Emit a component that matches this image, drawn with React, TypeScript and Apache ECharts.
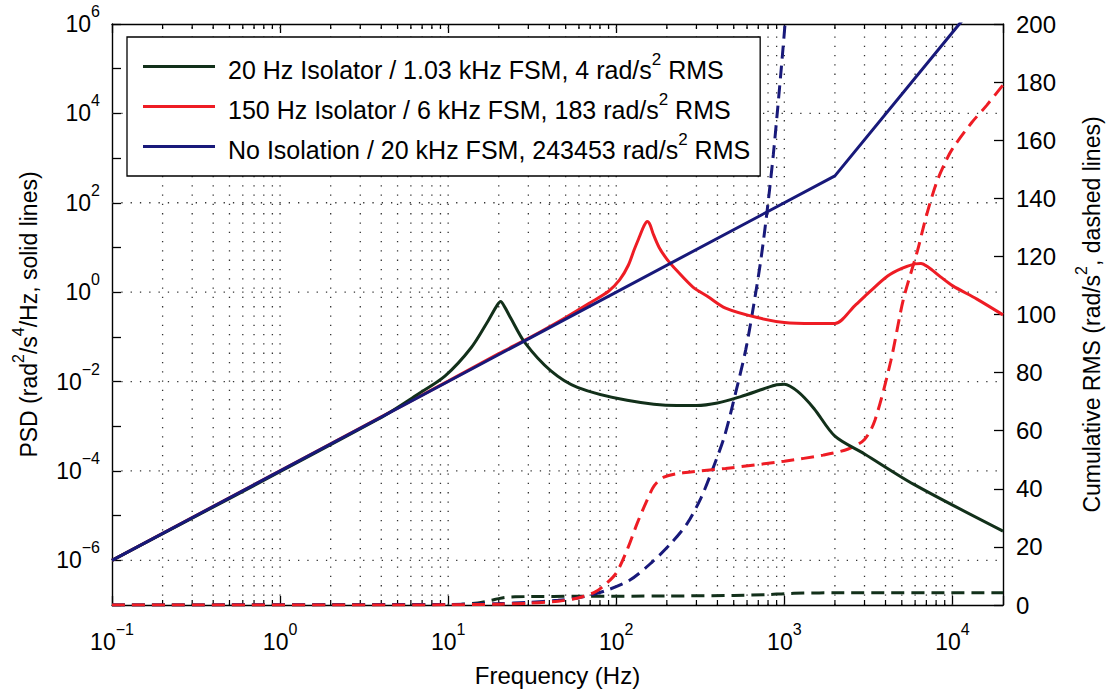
import React, { useEffect, useRef } from 'react';
import * as echarts from 'echarts';

const FONT = '"Liberation Sans", Arial, Helvetica, sans-serif';

// Axis extents
const FREQ_MIN = 0.1;
const FREQ_MAX = 20000;
const PSD_MIN = 1e-7;
const PSD_MAX = 1e6;
const RMS_MIN = 0;
const RMS_MAX = 200;

// Grid positions (x: decades and minor 2..9, y: even decades)
const xMajorGrid = [1, 10, 100, 1000, 10000];
const xMinorGrid = [
  0.2, 0.3, 0.4, 0.5, 0.6, 0.7, 0.8, 0.9,
  2, 3, 4, 5, 6, 7, 8, 9,
  20, 30, 40, 50, 60, 70, 80, 90,
  200, 300, 400, 500, 600, 700, 800, 900,
  2000, 3000, 4000, 5000, 6000, 7000, 8000, 9000,
];
const yGrid = [1e-6, 1e-4, 1e-2, 1, 1e2, 1e4];

// Legend names
const NAME_GREEN = '20 Hz Isolator / 1.03 kHz FSM, 4 rad/s² RMS';
const NAME_RED = '150 Hz Isolator / 6 kHz FSM, 183 rad/s² RMS';
const NAME_BLUE = 'No Isolation / 20 kHz FSM, 243453 rad/s² RMS';

// PSD (solid lines) [frequency Hz, rad^2/s^4/Hz]
const greenPsd: [number, number][] = [
  [0.1, 1e-6], [3.85, 0.00145], [6.6, 0.0052], [9.6, 0.0134], [13.7, 0.057],
  [17.3, 0.23], [19.5, 0.5], [20.5, 0.62], [21.8, 0.45], [23.6, 0.26],
  [28.6, 0.074], [40.7, 0.0175], [58.8, 0.0074], [116, 0.0038], [229, 0.0029],
  [300, 0.0029], [400, 0.0033], [550, 0.0046], [750, 0.0068], [900, 0.0085],
  [1000, 0.0087], [1200, 0.006], [1500, 0.0025], [2000, 0.0006], [3000, 0.00024],
  [5900, 0.00005], [20000, 4.5e-6],
];
const redPsd: [number, number][] = [
  [0.1, 1e-6], [10, 0.0102], [20, 0.042], [32, 0.105], [50, 0.27], [70, 0.58],
  [90, 1.05], [105, 1.9], [118, 4], [128, 9], [138, 18], [146, 30], [153, 38],
  [159, 32], [166, 20], [180, 10], [200, 5.5], [230, 3], [286, 1.3], [350, 0.8],
  [447, 0.44], [690, 0.27], [1000, 0.21], [1500, 0.2], [2000, 0.2], [2630, 0.5],
  [3200, 1.0], [4120, 2.3], [5000, 3.4], [6000, 4.3], [6500, 4.4], [7200, 3.6],
  [8500, 2.2], [10000, 1.4], [14000, 0.7], [20000, 0.31],
];
const bluePsd: [number, number][] = [
  [0.1, 1e-6], [2000, 400], [11000, 1e6], [20000, 1.5e7],
];

// Cumulative RMS (dashed lines) [frequency Hz, rad/s^2]
const greenRms: [number, number][] = [
  [0.1, 0], [8, 0.1], [12, 0.3], [15, 0.7], [18, 1.6], [20, 2.2], [22, 2.6],
  [25, 2.8], [30, 2.9], [60, 3.0], [200, 3.1], [500, 3.3], [800, 3.6], [1000, 3.9],
  [1300, 4.1], [2000, 4.2], [20000, 4.2],
];
const redRms: [number, number][] = [
  [0.1, 0], [10, 0.05], [20, 0.3], [30, 0.6], [45, 1.3], [60, 2.5], [75, 4.5],
  [85, 6.8], [100, 11], [118, 20], [133, 28], [151, 35.5], [168, 41], [192, 44],
  [250, 45.5], [447, 47], [1000, 49.5], [1700, 51.6], [2400, 53.7], [3000, 57],
  [3460, 63.6], [4300, 84], [5100, 105], [6200, 122], [7000, 134], [8000, 145],
  [9000, 152], [10000, 157], [13000, 166], [16000, 172], [20000, 179],
];
const blueRms: [number, number][] = [
  [0.1, 0], [10, 0.2], [20, 0.5], [30, 0.9], [45, 1.6], [60, 2.5], [85, 4.8],
  [120, 8.5], [163, 14.7], [210, 21], [264, 28], [320, 37], [373, 46.5], [440, 58],
  [513, 73], [590, 88], [665, 105], [730, 120], [795, 137], [860, 155], [910, 170],
  [960, 185], [1000, 197], [1060, 215],
];

const GREEN = '#12301a';
const RED = '#ee1c24';
const BLUE = '#18197a';

const supLabel = (v: number, evenOnly: boolean) => {
  const lg = Math.log10(v);
  const e = Math.round(lg);
  if (Math.abs(lg - e) > 1e-6) return '';
  if (evenOnly && e % 2 !== 0) return '';
  const es = e < 0 ? '−' + -e : String(e);
  return `{b|10}{s|${es}}`;
};

const tickRich = {
  b: { fontSize: 23, lineHeight: 23, fontFamily: FONT, color: '#000', verticalAlign: 'bottom' },
  s: { fontSize: 16, fontFamily: FONT, color: '#000', padding: [0, 0, 16, 0], verticalAlign: 'bottom' },
};

const titleRich = {
  t: { fontSize: 23, lineHeight: 23, fontFamily: FONT, color: '#000', verticalAlign: 'bottom' },
  s: { fontSize: 16, fontFamily: FONT, color: '#000', padding: [0, 0, 14, 0], verticalAlign: 'bottom' },
};

const gridStyle = { stroke: '#333', lineWidth: 1.3, lineDash: [1.3, 8] };

export default function App() {
  const ref = useRef<HTMLDivElement>(null);

  useEffect(() => {
    if (!ref.current) return;
    const chart = echarts.init(ref.current, undefined, { renderer: 'svg' });

    const xAxisCommon = {
      type: 'log',
      logBase: 10,
      min: FREQ_MIN,
      max: FREQ_MAX,
      interval: 1,
      axisLine: { show: true, onZero: false, lineStyle: { color: '#000', width: 1.4 } },
      axisTick: { show: true, inside: true, length: 9, lineStyle: { color: '#000', width: 1.3 } },
      splitLine: { show: false },
      minorTick: { show: false },
    };

    const option: any = {
      animation: false,
      backgroundColor: '#fff',
      grid: { left: 112, right: 103, top: 24, bottom: 82, containLabel: false },
      legend: {
        show: true,
        orient: 'vertical',
        left: 127,
        top: 37,
        data: [NAME_GREEN, NAME_RED, NAME_BLUE],
        icon: 'rect',
        itemWidth: 72,
        itemHeight: 3,
        itemGap: 9,
        padding: [14, 10, 14, 16],
        backgroundColor: '#fff',
        borderColor: '#000',
        borderWidth: 1.3,
        selectedMode: false,
        formatter: (name: string) => {
          const parts = name.split('²');
          return `{f|${parts[0]}}{s|2}{t|${parts[1]}}`;
        },
        textStyle: {
          fontFamily: FONT,
          fontSize: 25,
          color: '#000',
          rich: {
            f: { fontSize: 25, fontFamily: FONT, color: '#000', padding: [0, 0, 0, 8], verticalAlign: 'bottom' },
            t: { fontSize: 25, fontFamily: FONT, color: '#000', verticalAlign: 'bottom' },
            s: { fontSize: 17, fontFamily: FONT, color: '#000', padding: [0, 0, 14, 0], verticalAlign: 'bottom' },
          },
        },
      },
      xAxis: [
        {
          ...xAxisCommon,
          position: 'bottom',
          name: 'Frequency (Hz)',
          nameLocation: 'middle',
          nameGap: 58,
          nameTextStyle: { fontFamily: FONT, fontSize: 24, color: '#000' },
          axisLabel: {
            show: true,
            margin: 16,
            showMinLabel: true,
            showMaxLabel: true,
            hideOverlap: false,
            formatter: (v: number) => supLabel(v, false),
            rich: tickRich,
          },
        },
        {
          ...xAxisCommon,
          position: 'top',
          axisLabel: { show: false },
        },
      ],
      yAxis: [
        {
          type: 'log',
          logBase: 10,
          min: PSD_MIN,
          max: PSD_MAX,
          interval: 1,
          position: 'left',
          axisLine: { show: true, onZero: false, lineStyle: { color: '#000', width: 1.4 } },
          axisTick: { show: true, inside: true, length: 9, lineStyle: { color: '#000', width: 1.3 } },
          splitLine: { show: false },
          axisLabel: {
            show: true,
            margin: 12,
            padding: [0, 0, 9, 0],
            showMinLabel: true,
            showMaxLabel: true,
            hideOverlap: false,
            formatter: (v: number) => supLabel(v, true),
            rich: tickRich,
          },
          name: '{t|PSD (rad}{s|2}{t|/s}{s|4}{t|/Hz, solid lines)}',
          nameLocation: 'middle',
          nameGap: 72,
          nameRotate: 90,
          nameTextStyle: { fontFamily: FONT, fontSize: 23, color: '#000', rich: titleRich },
        },
        {
          type: 'value',
          min: RMS_MIN,
          max: RMS_MAX,
          interval: 20,
          position: 'right',
          axisLine: { show: true, onZero: false, lineStyle: { color: '#000', width: 1.4 } },
          axisTick: { show: true, inside: true, length: 9, lineStyle: { color: '#000', width: 1.3 } },
          splitLine: { show: false },
          axisLabel: {
            show: true,
            margin: 13,
            fontFamily: FONT,
            fontSize: 24,
            color: '#000',
            showMinLabel: true,
            showMaxLabel: true,
          },
          name: '{t|Cumulative RMS (rad/s}{s|2}{t|, dashed lines)}',
          nameLocation: 'middle',
          nameGap: 70,
          nameRotate: 90,
          nameTextStyle: { fontFamily: FONT, fontSize: 23, color: '#000', rich: titleRich },
        },
      ],
      series: [
        {
          type: 'custom',
          name: 'xgrid',
          xAxisIndex: 0,
          yAxisIndex: 0,
          silent: true,
          z: 1,
          data: [
            ...xMajorGrid.map((f) => [f, 1, 1]),
            ...xMinorGrid.map((f) => [f, 1, 0]),
          ],
          renderItem: (params: any, api: any) => {
            const f = api.value(0);
            const major = api.value(2) === 1;
            const bot = api.coord([f, PSD_MIN]);
            const top = api.coord([f, PSD_MAX]);
            const children: any[] = [
              {
                type: 'line',
                shape: { x1: bot[0], y1: bot[1], x2: top[0], y2: top[1] },
                style: gridStyle,
              },
            ];
            if (!major) {
              children.push({
                type: 'line',
                shape: { x1: bot[0], y1: bot[1], x2: bot[0], y2: bot[1] - 5 },
                style: { stroke: '#000', lineWidth: 1.2 },
              });
              children.push({
                type: 'line',
                shape: { x1: top[0], y1: top[1], x2: top[0], y2: top[1] + 5 },
                style: { stroke: '#000', lineWidth: 1.2 },
              });
            }
            return { type: 'group', children };
          },
        },
        {
          type: 'custom',
          name: 'ygrid',
          xAxisIndex: 0,
          yAxisIndex: 0,
          silent: true,
          z: 1,
          data: yGrid.map((v) => [FREQ_MIN, v]),
          renderItem: (params: any, api: any) => {
            const v = api.value(1);
            const a = api.coord([FREQ_MIN, v]);
            const b = api.coord([FREQ_MAX, v]);
            return {
              type: 'line',
              shape: { x1: a[0], y1: a[1], x2: b[0], y2: b[1] },
              style: gridStyle,
            };
          },
        },
        {
          type: 'line',
          name: 'green cumulative',
          xAxisIndex: 0,
          yAxisIndex: 1,
          data: greenRms,
          symbol: 'none',
          smooth: 0.3,
          lineStyle: { color: GREEN, width: 3, type: [13, 7] },
          itemStyle: { color: GREEN },
        },
        {
          type: 'line',
          name: 'blue cumulative',
          xAxisIndex: 0,
          yAxisIndex: 1,
          data: blueRms,
          symbol: 'none',
          smooth: 0.3,
          lineStyle: { color: BLUE, width: 3, type: [13, 7] },
          itemStyle: { color: BLUE },
        },
        {
          type: 'line',
          name: 'red cumulative',
          xAxisIndex: 0,
          yAxisIndex: 1,
          data: redRms,
          symbol: 'none',
          smooth: 0.3,
          lineStyle: { color: RED, width: 3, type: [13, 7] },
          itemStyle: { color: RED },
        },
        {
          type: 'line',
          name: NAME_RED,
          xAxisIndex: 0,
          yAxisIndex: 0,
          data: redPsd,
          symbol: 'none',
          smooth: 0.3,
          lineStyle: { color: RED, width: 3 },
          itemStyle: { color: RED },
        },
        {
          type: 'line',
          name: NAME_GREEN,
          xAxisIndex: 0,
          yAxisIndex: 0,
          data: greenPsd,
          symbol: 'none',
          smooth: 0.3,
          lineStyle: { color: GREEN, width: 3 },
          itemStyle: { color: GREEN },
        },
        {
          type: 'line',
          name: NAME_BLUE,
          xAxisIndex: 0,
          yAxisIndex: 0,
          data: bluePsd,
          symbol: 'none',
          lineStyle: { color: BLUE, width: 3 },
          itemStyle: { color: BLUE },
        },
      ],
    };

    chart.setOption(option);
    return () => chart.dispose();
  }, []);

  return (
    <div
      ref={ref}
      style={{ position: 'fixed', left: 0, top: 0, width: 1111, height: 692, background: '#fff' }}
    />
  );
}
